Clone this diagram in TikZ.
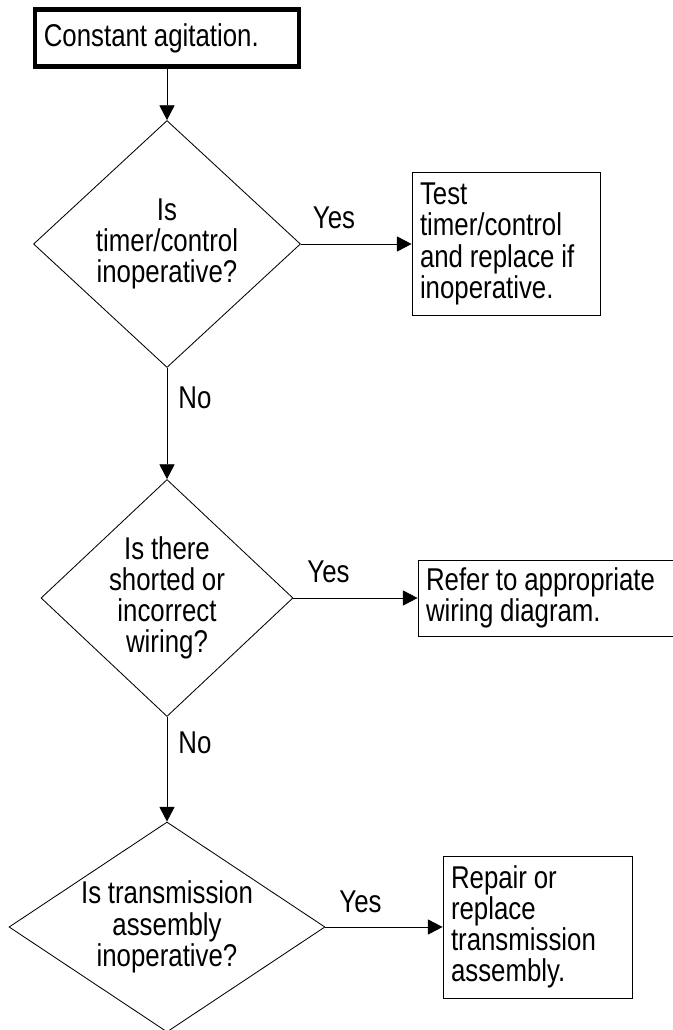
\documentclass[tikz,border=0pt]{standalone}
\usepackage{fontspec}
\setmainfont{Liberation Sans}[FakeStretch=0.82,WordSpace=0.95]
\usetikzlibrary{shapes.geometric,arrows.meta}
\begin{document}
\begin{tikzpicture}[font=\fontsize{22.4}{22.2}\selectfont,
  startbox/.style={shape=rectangle,draw=black,line width=3.5pt,minimum width=6.6cm,minimum height=1.425cm,inner xsep=0.22cm,text width=6.16cm,align=flush left},
  action/.style={shape=rectangle,draw=black,line width=0.6pt,inner xsep=0.2cm,align=flush left},
  decision/.style={shape=diamond,draw=black,line width=0.6pt,inner sep=0pt,align=center},
  lbl/.style={inner sep=0pt},
  flow/.style={line width=0.6pt,-{Triangle[length=0.37cm,width=0.38cm]}}]
\def\xm{4.175};

\useasboundingbox (0,0) rectangle (16.8,-25.75);

\node[startbox] (Start) at (\xm,-0.95) {Constant agitation.};

\node[decision,minimum width=6.675cm,minimum height=6.175cm] (Timer) at (\xm,-6.1) {Is\\timer/control\\inoperative?};
\draw[flow] (Start.south) -- (Timer.north);
\node[action,text width=4.3cm,minimum height=3.575cm] (TestT) at (12.65,-6.1) {Test\\timer/control\\and replace if\\inoperative.};
\draw[flow] (Timer.east) -- (TestT.west);
\node[lbl] (Yes1) at (8.35,-5.45) {Yes};

\node[decision,shape aspect=1.1,minimum width=6.3cm,minimum height=5.925cm] (Wiring) at (\xm,-14.95) {Is there\\shorted or\\incorrect\\wiring?};
\draw[flow] (Timer.south) -- (Wiring.north);
\node[lbl] (No1) at (4.875,-9.95) {No};
\node[action,text width=6.05cm,minimum height=1.9cm] (Refer) at (13.675,-14.95) {Refer to appropriate\\wiring diagram.};
\draw[flow] (Wiring.east) -- (Refer.west);
\node[lbl] (Yes2) at (8.2125,-14.3) {Yes};

\node[decision,shape aspect=1.5,minimum width=7.9cm,minimum height=5.25cm] (Trans) at (\xm,-23.175) {Is transmission\\assembly\\inoperative?};
\draw[flow] (Wiring.south) -- (Trans.north);
\node[lbl] (No2) at (4.875,-18.575) {No};
\node[action,text width=4.325cm,minimum height=3.55cm] (Repair) at (13.4375,-23.175) {Repair or\\replace\\transmission\\assembly.};
\draw[flow] (Trans.east) -- (Repair.west);
\node[lbl] (Yes3) at (9.0125,-22.55) {Yes};
\end{tikzpicture}
\end{document}
